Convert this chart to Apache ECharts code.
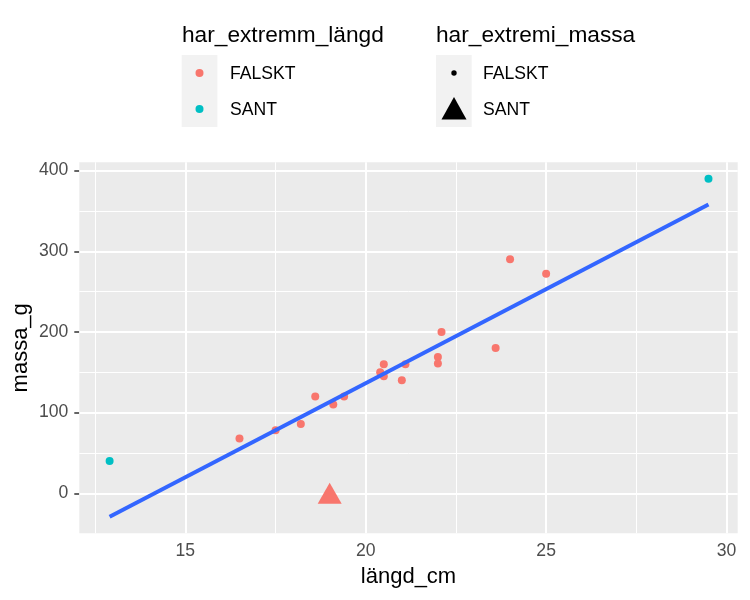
<!DOCTYPE html>
<html>
<head>
<meta charset="utf-8">
<script src="https://cdn.jsdelivr.net/npm/echarts@6/dist/echarts.min.js"></script>
<style>
  html, body { margin: 0; padding: 0; background: #fff; }
  #chart { width: 750px; height: 600px; }
</style>
</head>
<body>
<div id="chart"></div>
<script>
// punkter utan extrem längd (röda cirklar)
var langdFalskt = [16.5, 17.5, 18.2, 18.6, 19.1, 19.4, 20.4, 20.5, 20.5, 21.0, 21.1, 22.0, 22.0, 22.1, 23.6, 24.0, 25.0];
var massaFalskt = [68, 78, 86, 120, 110, 120, 150, 160, 145, 140, 160, 169, 161, 200, 180, 290, 272];
// extrem längd (turkosa cirklar)
var langdSant = [12.9, 29.5];
var massaSant = [40, 390];
// extrem massa (röd triangel)
var langdExtremMassa = [19.0];
var massaExtremMassa = [0];
// regressionslinje, avläst
var fitLangd = [12.9, 29.5];
var fitMassa = [-29, 358];

var xMajor = [15, 20, 25, 30];
var xMinor = [12.5, 17.5, 22.5, 27.5];
var yMajor = [0, 100, 200, 300, 400];
var yMinor = [50, 150, 250, 350];

var FONT = '"Liberation Sans", Arial, sans-serif';
var RED = '#F8766D', TEAL = '#00BFC4';

function pairs(xs, ys) {
  var out = [];
  for (var i = 0; i < xs.length; i++) out.push([xs[i], ys[i]]);
  return out;
}

// rutnätslinjer som markLine
var gridLines = [];
xMinor.forEach(function (v) { gridLines.push({ xAxis: v, lineStyle: { color: '#fff', width: 1, type: 'solid' } }); });
yMinor.forEach(function (v) { gridLines.push({ yAxis: v, lineStyle: { color: '#fff', width: 1, type: 'solid' } }); });
xMajor.forEach(function (v) { gridLines.push({ xAxis: v, lineStyle: { color: '#fff', width: 2, type: 'solid' } }); });
yMajor.forEach(function (v) { gridLines.push({ yAxis: v, lineStyle: { color: '#fff', width: 2, type: 'solid' } }); });

var chart = echarts.init(document.getElementById('chart'), null, { renderer: 'canvas' });

var option = {
  animation: false,
  backgroundColor: '#fff',
  grid: {
    left: 79.3, right: 12.3, top: 162.3, bottom: 66.7,
    show: true, backgroundColor: '#EBEBEB', borderWidth: 0
  },
  xAxis: {
    type: 'value',
    min: 12.06, max: 30.31,
    splitLine: { show: false },
    axisLine: { show: false },
    axisTick: { show: true, customValues: xMajor, length: 5, lineStyle: { color: '#333', width: 1.5 } },
    axisLabel: { customValues: xMajor, color: '#4D4D4D', fontSize: 17.6, fontFamily: FONT, margin: 9 },
    name: 'längd_cm',
    nameLocation: 'middle',
    nameGap: 33,
    nameTextStyle: { color: '#000', fontSize: 22, fontFamily: FONT }
  },
  yAxis: {
    type: 'value',
    min: -49.6, max: 410.3,
    splitLine: { show: false },
    axisLine: { show: false },
    axisTick: { show: true, customValues: yMajor, length: 5, lineStyle: { color: '#333', width: 1.5 } },
    axisLabel: { customValues: yMajor, color: '#4D4D4D', fontSize: 17.6, fontFamily: FONT, margin: 11 },
    name: 'massa_g',
    nameLocation: 'middle',
    nameGap: 47,
    nameMoveOverlap: false,
    nameTextStyle: { color: '#000', fontSize: 22, fontFamily: FONT }
  },
  series: [
    {
      name: 'rutnät',
      type: 'scatter',
      data: [],
      z: 1,
      silent: true,
      markLine: {
        z: 1,
        silent: true,
        symbol: ['none', 'none'],
        label: { show: false },
        emphasis: { disabled: true },
        data: gridLines
      }
    },
    {
      name: 'FALSKT',
      type: 'scatter',
      z: 3,
      symbol: 'circle',
      symbolSize: 8,
      itemStyle: { color: RED, opacity: 1 },
      data: pairs(langdFalskt, massaFalskt)
    },
    {
      name: 'SANT',
      type: 'scatter',
      z: 3,
      symbol: 'circle',
      symbolSize: 8,
      itemStyle: { color: TEAL, opacity: 1 },
      data: pairs(langdSant, massaSant)
    },
    {
      name: 'extrem massa',
      type: 'scatter',
      z: 3,
      symbol: 'triangle',
      symbolSize: [24, 21],
      itemStyle: { color: RED, opacity: 1 },
      data: pairs(langdExtremMassa, massaExtremMassa)
    },
    {
      name: 'lm',
      type: 'line',
      z: 4,
      showSymbol: false,
      symbol: 'none',
      lineStyle: { color: '#3366FF', width: 4 },
      data: pairs(fitLangd, fitMassa)
    }
  ],
  graphic: [
    // legend: har_extremm_längd
    { type: 'text', left: 182, top: 24, style: { text: 'har_extremm_längd', fill: '#000', font: '22.7px ' + FONT } },
    { type: 'rect', shape: { x: 181.7, y: 55, width: 35.7, height: 72 }, style: { fill: '#F2F2F2' } },
    { type: 'circle', shape: { cx: 199.5, cy: 73, r: 4 }, style: { fill: RED } },
    { type: 'circle', shape: { cx: 199.5, cy: 109, r: 4 }, style: { fill: TEAL } },
    { type: 'text', style: { text: 'FALSKT', x: 230, y: 74, verticalAlign: 'middle', fill: '#000', font: '17.6px ' + FONT } },
    { type: 'text', style: { text: 'SANT', x: 230, y: 110, verticalAlign: 'middle', fill: '#000', font: '17.6px ' + FONT } },
    // legend: har_extremi_massa
    { type: 'text', left: 436, top: 24, style: { text: 'har_extremi_massa', fill: '#000', font: '22.7px ' + FONT } },
    { type: 'rect', shape: { x: 436, y: 55, width: 35.7, height: 72 }, style: { fill: '#F2F2F2' } },
    { type: 'circle', shape: { cx: 454, cy: 73, r: 2.7 }, style: { fill: '#000' } },
    { type: 'polygon', shape: { points: [[454, 97], [441.5, 119.5], [466.5, 119.5]] }, style: { fill: '#000' } },
    { type: 'text', style: { text: 'FALSKT', x: 483, y: 74, verticalAlign: 'middle', fill: '#000', font: '17.6px ' + FONT } },
    { type: 'text', style: { text: 'SANT', x: 483, y: 110, verticalAlign: 'middle', fill: '#000', font: '17.6px ' + FONT } }
  ]
};

chart.setOption(option);
</script>
</body>
</html>
